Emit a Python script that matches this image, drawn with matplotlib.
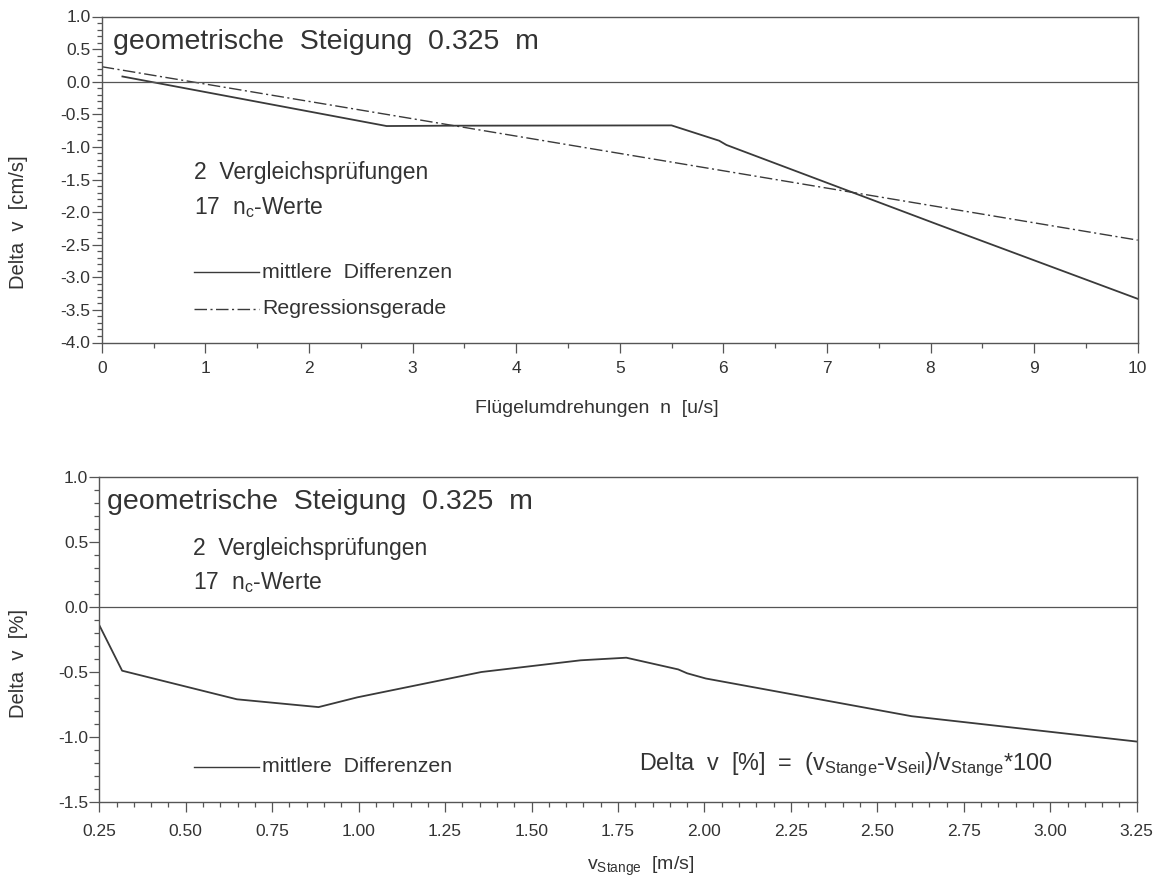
import matplotlib

matplotlib.use("Agg")
import matplotlib.pyplot as plt
from matplotlib.ticker import MultipleLocator, FormatStrFormatter

# top chart: mean differences vs. rotor speed
n_diff = [0.2, 2.75, 3.3, 5.5, 5.96, 6.03, 8.07, 10.0]
dv_diff = [0.08, -0.68, -0.675, -0.67, -0.905, -0.97, -2.19, -3.33]
n_reg = [0.0, 10.0]
dv_reg = [0.23, -2.43]

# bottom chart: relative differences vs. rod velocity
v_stange = [0.25, 0.316, 0.648, 0.884, 0.996, 1.355, 1.642, 1.774,
            1.924, 1.95, 2.004, 2.599, 3.25]
dv_pct = [-0.14, -0.49, -0.71, -0.77, -0.695, -0.50, -0.41, -0.39,
          -0.48, -0.51, -0.55, -0.84, -1.035]

W, H = 1159, 882
INK = "#3a3a3a"
TXT = "#333333"

plt.rcParams["font.family"] = ["Liberation Sans", "DejaVu Sans"]
plt.rcParams["mathtext.fontset"] = "custom"
plt.rcParams["mathtext.rm"] = "Liberation Sans"
plt.rcParams["mathtext.it"] = "Liberation Sans"
plt.rcParams["axes.unicode_minus"] = False

fig = plt.figure(figsize=(W / 100, H / 100), dpi=100)


def px_axes(left, top, right, bottom):
    return fig.add_axes([left / W, 1 - bottom / H, (right - left) / W, (bottom - top) / H])


def ftext(x, y, s, **kw):
    kw.setdefault("color", TXT)
    kw.setdefault("va", "center")
    fig.text(x / W, 1 - y / H, s, **kw)


def style_axes(ax, xpad):
    for sp in ax.spines.values():
        sp.set_color("#555555")
        sp.set_linewidth(1.0)
    ax.tick_params(which="both", direction="out", colors="#555555",
                   labelcolor=TXT, labelsize=12.5, width=0.9)
    ax.tick_params(which="major", length=7)
    ax.tick_params(which="minor", length=3.5)
    ax.tick_params(axis="x", which="major", pad=xpad)
    ax.tick_params(axis="y", which="major", pad=1)
    ax.axhline(0, color="#555555", lw=0.9)


def legend_line(y, ls, label):
    fig.add_artist(plt.Line2D([194 / W, 259 / W], [1 - y / H, 1 - y / H],
                              color=INK, lw=1.0, linestyle=ls))
    ftext(262, y, label, fontsize=15.3)


dashdot = (0, (9, 2.5, 1.5, 2.5))

# ---- top chart ----
ax1 = px_axes(101.7, 16.5, 1137.7, 342.5)
ax1.plot(n_diff, dv_diff, color=INK, lw=1.3)
ax1.plot(n_reg, dv_reg, color=INK, lw=1.0, linestyle=dashdot)
ax1.set_xlim(0, 10)
ax1.set_ylim(-4.0, 1.0)
ax1.xaxis.set_major_locator(MultipleLocator(1))
ax1.xaxis.set_minor_locator(MultipleLocator(0.5))
ax1.yaxis.set_major_locator(MultipleLocator(0.5))
ax1.yaxis.set_minor_locator(MultipleLocator(0.1))
ax1.yaxis.set_major_formatter(FormatStrFormatter("%.1f"))
style_axes(ax1, 6)

ftext(113, 42, "geometrische  Steigung  0.325  m", fontsize=20.5)
ftext(194, 172, "2  Vergleichsprüfungen", fontsize=16.5)
ftext(194, 208, "17  n$_\\mathrm{c}$-Werte", fontsize=16.5)
legend_line(272, "-", "mittlere  Differenzen")
legend_line(309, dashdot, "Regressionsgerade")
ftext(475, 408, "Flügelumdrehungen  n  [u/s]", fontsize=14)
ftext(19, 222, "Delta  v  [cm/s]", fontsize=14.5, rotation=90, ha="center")

# ---- bottom chart ----
ax2 = px_axes(99.3, 477, 1136.7, 802)
ax2.plot(v_stange, dv_pct, color=INK, lw=1.3)
ax2.set_xlim(0.25, 3.25)
ax2.set_ylim(-1.5, 1.0)
ax2.xaxis.set_major_locator(MultipleLocator(0.25))
ax2.xaxis.set_minor_locator(MultipleLocator(0.05))
ax2.xaxis.set_major_formatter(FormatStrFormatter("%.2f"))
ax2.yaxis.set_major_locator(MultipleLocator(0.5))
ax2.yaxis.set_minor_locator(MultipleLocator(0.1))
ax2.yaxis.set_major_formatter(FormatStrFormatter("%.1f"))
style_axes(ax2, 9)

ftext(107, 502, "geometrische  Steigung  0.325  m", fontsize=20.5)
ftext(193, 549, "2  Vergleichsprüfungen", fontsize=16.5)
ftext(193, 583, "17  n$_\\mathrm{c}$-Werte", fontsize=16.5)
legend_line(767, "-", "mittlere  Differenzen")
ftext(639, 765,
      "Delta  v  [%]  =  (v$_\\mathrm{Stange}$-v$_\\mathrm{Seil}$)/v$_\\mathrm{Stange}$*100",
      fontsize=16.8)
ftext(587, 866, "v$_\\mathrm{Stange}$  [m/s]", fontsize=14)
ftext(19, 664, "Delta  v  [%]", fontsize=14.5, rotation=90, ha="center")

fig.savefig("out.png", dpi=100, facecolor="white")
